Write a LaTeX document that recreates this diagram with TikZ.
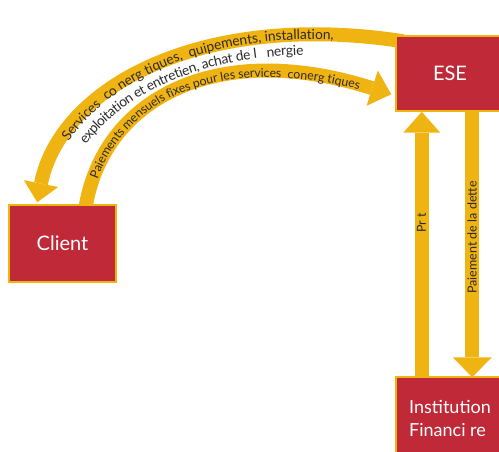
\documentclass[tikz,border=0pt]{standalone}
\usepackage{fontspec}
\setmainfont{Lato}
\usetikzlibrary{arrows.meta,decorations.text,backgrounds,calc}
\definecolor{bandcol}{RGB}{239,179,18}
\definecolor{boxred}{RGB}{192,41,56}
\definecolor{txtdark}{RGB}{45,42,42}
\newcommand{\outerfont}{\fontsize{13.8}{15}\selectfont}
\newcommand{\innerfont}{\fontsize{12.3}{14}\selectfont}
\begin{document}
\begin{tikzpicture}[x=1pt,y=-1pt,
  box/.style={draw=bandcol, line width=1.5pt, fill=boxred, text=white, inner sep=0pt,
              font=\fontsize{20}{22}\selectfont},
  band/.style={draw=bandcol, line width=14pt},
  lbl/.style={text=txtdark, font=\fontsize{12.5}{14}\selectfont, inner sep=0pt},
  curvetext/.style={decorate, decoration={text along path, text color=txtdark}}]
\useasboundingbox (0,0) rectangle (499,452);
\node[box, minimum width=108pt, minimum height=75pt] (ese) at (450,73.5) {ESE};
\node[box, minimum width=107pt, minimum height=77pt] (client) at (62.5,243.5) {Client};
\node[box, minimum width=108pt, minimum height=83pt, align=left,
      font=\fontsize{18}{23}\selectfont] (fin) at (450,418.5) {Institution\\Financi re};
\begin{scope}[on background layer]
  % outer arc: ESE -> Client
  \draw[band, -{Triangle[width=35pt,length=19pt,line width=0pt]}]
    ($(ese.north west)+(8,6)$) .. controls (200,10) and (60,88) .. ($(client.north west)+(29,-2)$);
  % inner arc: Client -> ESE
  \draw[band, -{Triangle[width=37pt,length=20pt,line width=0pt]}]
    ($(client.north west)+(77,5)$) .. controls (102,100) and (215,38) .. ($(ese.north west)+(-4,59)$);
  % Pret: Institution -> ESE
  \draw[band, -{Triangle[width=37pt,length=21pt,line width=0pt]}]
    ($(fin.north west)+(26.5,2)$) -- ($(ese.south west)+(26.5,0)$);
  % Paiement de la dette: ESE -> Institution
  \draw[band, -{Triangle[width=39pt,length=20pt,line width=0pt]}]
    ($(ese.south west)+(77,-2)$) -- ($(fin.north west)+(77,1)$);
\end{scope}
% texts along the arcs
\path[curvetext, decoration={text={|\outerfont|Services {\ }co nerg tiques, {\ }quipements, installation,},
      text align={left indent=70pt}, raise=-4.5pt}]
  (38,203) .. controls (60,88) and (200,10) .. (404,42);
\path[curvetext, decoration={text={|\outerfont|exploitation et entretien, achat de l {\ }{\ }nergie},
      text align={left indent=79pt}, raise=-20pt}]
  (38,203) .. controls (60,88) and (200,10) .. (404,42);
\path[curvetext, decoration={text={|\innerfont|Paiements mensuels fixes pour les services {\ }conerg tiques},
      text align={left indent=33pt}, raise=-4pt}]
  (86,210) .. controls (102,100) and (215,38) .. (392,95);
\node[lbl, rotate=90] (lpret) at (421.5,223) {Pr t};
\node[lbl, rotate=90] (ldette) at (472,237.5) {Paiement de la dette};
\end{tikzpicture}
\end{document}
